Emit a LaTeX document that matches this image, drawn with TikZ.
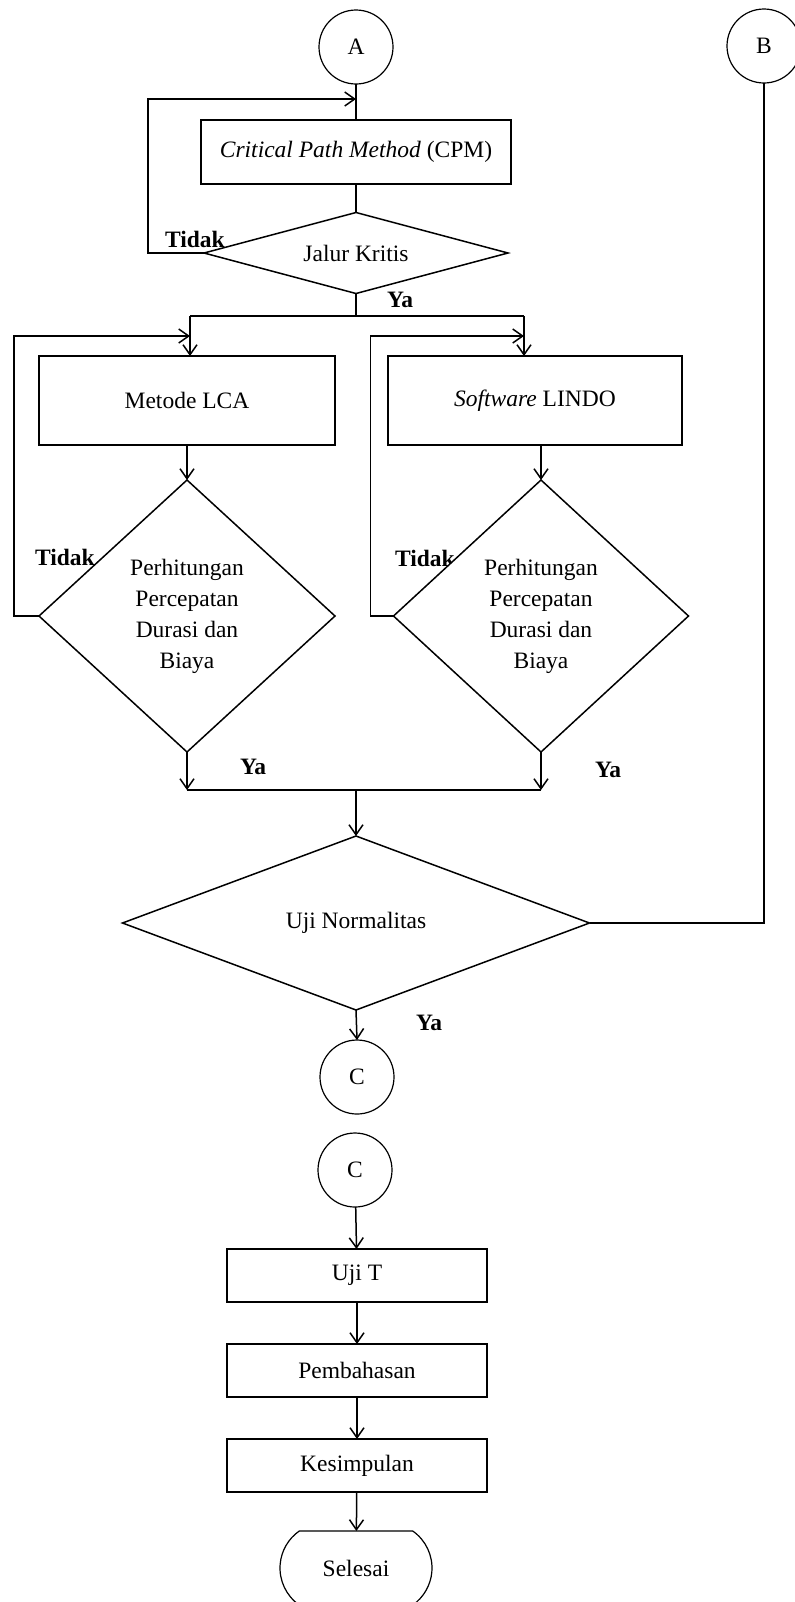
\documentclass[tikz,border=0pt]{standalone}
\usepackage{fontspec}
\setmainfont{Liberation Serif}
\usetikzlibrary{shapes.geometric,shapes.misc,arrows.meta}
\begin{document}
\begin{tikzpicture}[x=0.5pt,y=-0.5pt,
  every node/.style={font=\fontsize{11.75}{15.5}\selectfont, inner sep=0pt, outer sep=0pt},
  line/.style={draw=black, line width=0.75pt},
  arr/.style={line, -{Straight Barb[length=5pt,width=7pt,line width=0.75pt]}},
  conn/.style={circle, draw, line width=0.6pt, minimum size=37pt},
  proc/.style={rectangle, draw, line width=0.75pt},
  procb/.style={rectangle, draw, line width=1.3pt, minimum width=130pt, minimum height=26.5pt},
  decision/.style={diamond, draw, fill=white, line width=0.75pt},
  lbl/.style={font=\fontsize{11.75}{15.5}\selectfont\bfseries, anchor=west},
]
\useasboundingbox (0,0) rectangle (794,1602);

% labels (drawn first, the shapes overlap them slightly)
\node[lbl] (t0) at (165,239) {Tidak};
\node[lbl] (y0) at (387,300) {Ya};
\node[lbl] (t1) at (35,557) {Tidak};
\node[lbl] (y1) at (240,767) {Ya};
\node[lbl] (t2) at (395,558) {Tidak};
\node[lbl] (y2) at (595,770) {Ya};
\node[lbl] (y3) at (416,1023) {Ya};

% nodes
\node[conn] (A) at (356,47) {A};
\node[conn] (B) at (764,46) {B};
\node[proc, minimum width=155pt, minimum height=32pt] (cpm) at (356,152) {\textit{Critical Path Method} (CPM)};
\node[decision, minimum width=152pt, minimum height=40.5pt, label={center:Jalur Kritis}] (jk) at (356,253) {};
\node[proc, minimum width=148pt, minimum height=44.5pt] (lca) at (187,400.5) {Metode LCA};
\node[proc, minimum width=147pt, minimum height=44.5pt] (lindo) at (535,400.5) {\textit{Software} LINDO};
\node[decision, minimum width=148pt, minimum height=136pt,
  label={[align=center]center:{Perhitungan\\Percepatan\\Durasi dan\\Biaya}}] (d1) at (187,616) {};
\node[decision, minimum width=147.5pt, minimum height=136pt,
  label={[align=center]center:{Perhitungan\\Percepatan\\Durasi dan\\Biaya}}] (d2) at (541,616) {};
\node[decision, minimum width=233.5pt, minimum height=87pt, label={center:Uji Normalitas}] (un) at (356,923) {};
\node[conn] (C1) at (357,1077) {C};
\node[conn] (C2) at (355,1170) {C};
\node[procb] (ujit) at (357,1275.5) {Uji T};
\node[procb] (bahas) at (357,1370.5) {Pembahasan};
\node[procb] (simp) at (357,1465.5) {Kesimpulan};
\node[rounded rectangle, rounded rectangle arc length=110, draw, line width=0.6pt,
  minimum width=76pt, minimum height=37pt] (end) at (356,1568) {Selesai};

% helper coordinates
\coordinate (loopA) at (356,99);
\coordinate (split) at (356,316);
\coordinate (sl) at (190,316);
\coordinate (sr) at (524,316);
\coordinate (ll) at (190,336);
\coordinate (rl) at (524,336);
\coordinate (ml) at (187,790);
\coordinate (mr) at (541,790);
\coordinate (mc) at (356,790);

% connectors
\draw[line] (A) -- (cpm);
\draw[line] (cpm) -- (jk);
\draw[arr] (jk.west) -- ++(-56,0) |- (loopA);
\draw[line] (jk.south) -- (split);
\draw[line] (sl) -- (sr);
\draw[arr] (sl) -- (sl |- lca.north);
\draw[arr] (sr) -- (sr |- lindo.north);
\draw[arr] (lca) -- (d1);
\draw[arr] (d2.north |- lindo.south) -- (d2.north);
\draw[arr] (d1.west) -- ++(-25,0) |- (ll);
\draw[arr] (d2.west) -- ++(-23,0) |- (rl);
\draw[arr] (d1.south) -- (ml);
\draw[arr] (d2.south) -- (mr);
\draw[line] (ml) -- (mr);
\draw[arr] (mc) -- (un.north);
\draw[line] (un.east) -- (un.east -| B.south) -- (B.south);
\draw[arr] (un.south) -- (C1.north);
\draw[arr] (C2) -- (ujit);
\draw[arr] (ujit) -- (bahas);
\draw[arr] (bahas) -- (simp);
\draw[arr] (simp) -- (end);
\end{tikzpicture}
\end{document}
